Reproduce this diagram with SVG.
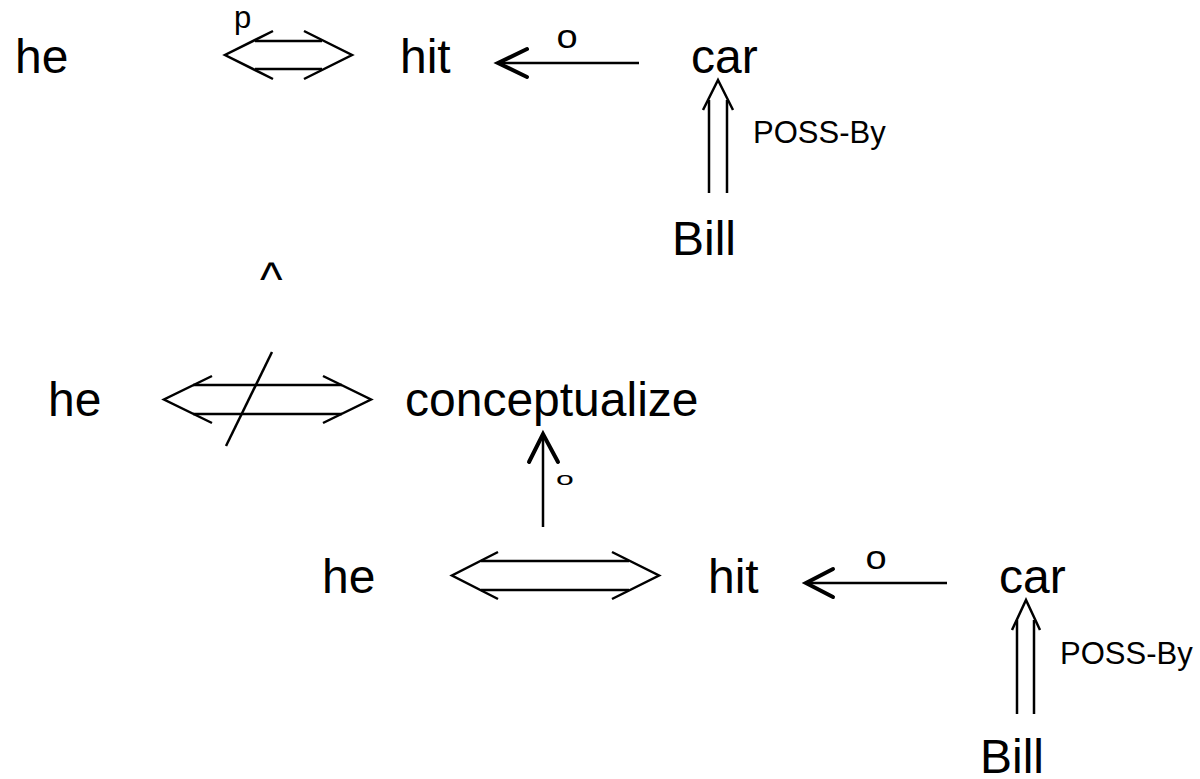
<svg xmlns="http://www.w3.org/2000/svg" width="1200" height="779" viewBox="0 0 1200 779">
<style>
text{font-family:"Liberation Sans",Arial,sans-serif;fill:#000}
.w{font-size:48px}
.s{font-size:31px}
.o{font-size:34px;text-anchor:middle}
.ln{stroke:#000;stroke-width:2.5;fill:none;stroke-linecap:butt}
.hd{stroke:#000;stroke-width:4;fill:none;stroke-linecap:round;stroke-linejoin:miter}
.dh{stroke:#000;stroke-width:2.5;fill:none;stroke-linejoin:miter}
</style>
<rect width="1200" height="779" fill="#fff"/>
<g id="connectors">
  <g id="top-he-hit">
    <line class="ln" x1="255" y1="41" x2="322" y2="41"/>
    <line class="ln" x1="255" y1="69" x2="322" y2="69"/>
    <polyline class="dh" points="273,31 225,55 273,79"/>
    <polyline class="dh" points="304,31 352,55 304,79"/>
    <text x="234" y="28" style="font-size:31px">p</text>
  </g>
  <g id="top-car-hit">
    <line class="ln" x1="499" y1="63" x2="639" y2="63"/>
    <polyline class="hd" points="527,49 498,63 527,77"/>
    <text class="o" transform="translate(567,47.5) scale(1.12,0.95)" x="0" y="0">o</text>
  </g>
  <g id="top-bill-car">
    <line class="ln" x1="709" y1="100" x2="709" y2="193"/>
    <line class="ln" x1="727" y1="100" x2="727" y2="193"/>
    <polyline class="dh" points="703,110 718,80 733,110"/>
    <text class="s" x="753" y="143">POSS-By</text>
  </g>
  <g id="mid-he-conceptualize">
    <line class="ln" x1="193" y1="385" x2="342" y2="385"/>
    <line class="ln" x1="193" y1="414" x2="342" y2="414"/>
    <polyline class="dh" points="212,376 164,399.5 212,423"/>
    <polyline class="dh" points="323,376 371,399.5 323,423"/>
    <line class="ln" x1="272" y1="352" x2="226" y2="446"/>
  </g>
  <g id="up-arrow">
    <line class="ln" x1="543" y1="435" x2="543" y2="527"/>
    <polyline class="hd" points="529,462 543,434 558,462"/>
    <text transform="translate(565,485) scale(1.6,0.93)" style="font-size:20px;text-anchor:middle">o</text>
  </g>
  <g id="bot-he-hit">
    <line class="ln" x1="481" y1="561" x2="629" y2="561"/>
    <line class="ln" x1="481" y1="590" x2="629" y2="590"/>
    <polyline class="dh" points="498,552 452,575.5 498,599"/>
    <polyline class="dh" points="612,552 659,575.5 612,599"/>
  </g>
  <g id="bot-car-hit">
    <line class="ln" x1="807" y1="583" x2="947" y2="583"/>
    <polyline class="hd" points="833,569 806,583 833,597"/>
    <text class="o" transform="translate(876,568.5) scale(1.12,0.95)" x="0" y="0">o</text>
  </g>
  <g id="bot-bill-car">
    <line class="ln" x1="1017" y1="620" x2="1017" y2="714"/>
    <line class="ln" x1="1034" y1="620" x2="1034" y2="714"/>
    <polyline class="dh" points="1012,630 1026,600 1040,630"/>
    <text class="s" x="1060" y="664">POSS-By</text>
  </g>
</g>
<g id="n-he1"><text class="w" x="15" y="73">he</text></g>
<g id="n-hit1"><text class="w" x="400" y="73">hit</text></g>
<g id="n-car1"><text class="w" x="691" y="73">car</text></g>
<g id="n-bill1"><text class="w" x="672" y="255">Bill</text></g>
<g id="n-caret"><text class="w" x="260" y="296">^</text></g>
<g id="n-he2"><text class="w" x="48" y="416">he</text></g>
<g id="n-conceptualize"><text class="w" x="405" y="416">conceptualize</text></g>
<g id="n-he3"><text class="w" x="322" y="593">he</text></g>
<g id="n-hit2"><text class="w" x="708" y="593">hit</text></g>
<g id="n-car2"><text class="w" x="999" y="593">car</text></g>
<g id="n-bill2"><text class="w" x="980" y="773">Bill</text></g>
</svg>
